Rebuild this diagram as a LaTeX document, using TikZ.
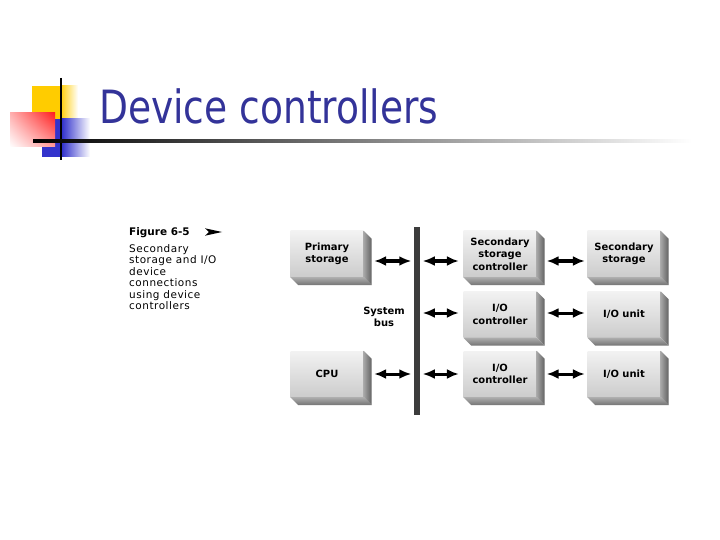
\documentclass[tikz,border=0pt]{standalone}
\usepackage{fontspec}
\setmainfont{DejaVu Sans}
\newfontfamily\titlefont[FakeStretch=0.82]{DejaVu Sans}
\newfontfamily\capfont[LetterSpace=5]{DejaVu Sans}
\usetikzlibrary{arrows.meta,positioning,shadings}

\definecolor{titleblue}{HTML}{333399}
\definecolor{busgray}{HTML}{3C3C3C}
\definecolor{logoyellow}{HTML}{FFCC00}
\definecolor{logoblue}{HTML}{3333CC}
\definecolor{logored}{HTML}{FF2020}

\tikzset{
  unit/.style={minimum width=73bp, minimum height=46bp, inner sep=0pt,
    align=center, top color=black!5, bottom color=black!20,
    font=\bfseries\fontsize{10}{12.5}\selectfont},
  bus/.style={fill=busgray, minimum width=6.5bp, minimum height=188bp, inner sep=0pt},
  busarrow/.style={line width=3bp,
    {Latex[length=12bp,width=10bp]}-{Latex[length=12bp,width=10bp]}},
}

\begin{document}
\begin{tikzpicture}[x=1bp, y=-1bp]

\useasboundingbox[fill=white] (0,0) rectangle (720,540);

% Logo squares
\fill[logoyellow] (32,86) rectangle (60,120);
\shade[left color=logoyellow, right color=white] (60,86) rectangle (78,120);
\fill[logoblue] (42,119) rectangle (62,157);
\shade[left color=logoblue, right color=white] (62,119) rectangle (90,157);
\shade[upper left=logored!35!white, upper right=logored, lower left=white, lower right=logored!45!white]
  (10,113) rectangle (55,147);
\draw[line width=2bp] (61,78) -- (61,160);

% Title and rule
\shade[left color=black, middle color=black!45, right color=white] (33,139.8) rectangle (692,142.2);
\node[anchor=base west, inner sep=0pt, text=titleblue, font=\titlefont\fontsize{46}{50}\selectfont]
  (title) at (99,124) {Device controllers};

% Figure caption
\node[anchor=base west, inner sep=0pt, font=\bfseries\fontsize{10.5}{12}\selectfont]
  (fig) at (129,236) {Figure 6-5};
\coordinate (tip) at (222,232);
\fill (tip) -- (205,228.3) -- (209,232) -- (205,235.7) -- cycle;
\node[anchor=north west, inner sep=0pt, align=left, font=\capfont\fontsize{10.5}{11.6}\selectfont]
  (cap) at (129,244) {Secondary\\storage and I/O\\device\\connections\\using device\\controllers};

% System bus
\node[bus] (bus) at (417,321) {};
\node[align=center, font=\bfseries\fontsize{10}{12}\selectfont] (buslabel) at (384,317) {System\\bus};

% Boxes
\node[unit] (prim) at (327,254) {Primary\\storage};
\node[unit] (cpu)  at (327,374) {CPU};
\node[unit] (ssc)  at (500,254) {Secondary\\storage\\controller};
\node[unit] (ioc1) at (500,314.5) {I/O\\controller};
\node[unit] (ioc2) at (500,374) {I/O\\controller};
\node[unit] (ss)   at (624,254) {Secondary\\storage};
\node[unit] (iou1) at (624,314.5) {I/O unit};
\node[unit] (iou2) at (624,374) {I/O unit};

% 3D sides of the boxes
\foreach \n in {prim,cpu,ssc,ioc1,ioc2,ss,iou1,iou2}{
  \shade[left color=black!35, right color=black!62]
    (\n.north east) -- ++(8,8) -- ([shift={(8,8)}]\n.south east) -- (\n.south east) -- cycle;
  \shade[top color=black!32, bottom color=black!55]
    (\n.south west) -- (\n.south east) -- ++(8,8) -- ([shift={(8,8)}]\n.south west) -- cycle;
}

% Arrows
\coordinate (r1) at (0,261);
\coordinate (r2) at (0,313);
\coordinate (r3) at (0,374);
\draw[busarrow, shorten <=10.5bp, shorten >=2.3bp] (prim.east |- r1) -- (bus.west |- r1);
\draw[busarrow, shorten <=10.5bp, shorten >=2.3bp] (cpu.east |- r3) -- (bus.west |- r3);
\foreach \b/\r in {ssc/r1, ioc1/r2, ioc2/r3}
  \draw[busarrow, shorten <=2.3bp, shorten >=4.5bp] (bus.east |- \r) -- (\b.west |- \r);
\foreach \a/\b/\r in {ssc/ss/r1, ioc1/iou1/r2, ioc2/iou2/r3}
  \draw[busarrow, shorten <=10bp, shorten >=2.5bp] (\a.east |- \r) -- (\b.west |- \r);

\end{tikzpicture}
\end{document}
